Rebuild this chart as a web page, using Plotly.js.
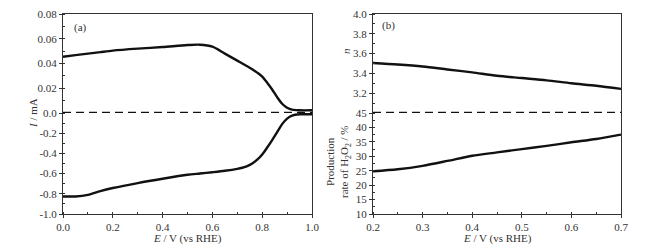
<!DOCTYPE html>
<html>
<head>
<meta charset="utf-8">
<script src="https://cdn.plot.ly/plotly-3.0.1.min.js"></script>
<style>html,body{margin:0;padding:0;background:#fff}#chart{width:660px;height:249px}</style>
</head>
<body>
<div id="chart"></div>
<script>
// Panel (a): ring current (upper) and disk current (lower)
const potentialA = [0, 0.05, 0.1, 0.15, 0.2, 0.3, 0.4, 0.5, 0.55, 0.6, 0.65, 0.7, 0.72, 0.74, 0.76, 0.78, 0.8, 0.82, 0.84, 0.86, 0.88, 0.9, 0.92, 0.95, 1.0];
const ringCurrent = [0.0455, 0.0468, 0.0480, 0.0492, 0.0504, 0.0520, 0.0533, 0.0549, 0.0552, 0.0536, 0.0480, 0.0423, 0.0400, 0.0378, 0.0354, 0.0326, 0.0294, 0.0245, 0.0190, 0.0128, 0.0075, 0.0043, 0.0027, 0.0022, 0.0022];
const diskCurrent = [-0.826, -0.826, -0.810, -0.773, -0.743, -0.694, -0.651, -0.612, -0.599, -0.586, -0.572, -0.553, -0.542, -0.526, -0.500, -0.462, -0.410, -0.342, -0.268, -0.190, -0.110, -0.055, -0.025, -0.013, -0.013];

// Panel (b): electron transfer number n and H2O2 yield
const potentialB = [0.2, 0.25, 0.3, 0.35, 0.4, 0.45, 0.5, 0.55, 0.6, 0.65, 0.7];
const electronNumber = [3.505, 3.49, 3.47, 3.44, 3.41, 3.376, 3.353, 3.33, 3.30, 3.275, 3.244];
const h2o2Yield = [24.8, 25.5, 26.7, 28.4, 30.2, 31.35, 32.5, 33.6, 34.85, 36.0, 37.5];

// Tick labels
const xTicksA = [0, 0.2, 0.4, 0.6, 0.8, 1.0];
const xTickTextA = ['0.0', '0.2', '0.4', '0.6', '0.8', '1.0'];
const yTicksAUp = [0, 0.02, 0.04, 0.06, 0.08];
const yTickTextAUp = ['0.0', '0.02', '0.04', '0.06', '0.08'];
const yTicksALow = [-1.0, -0.8, -0.6, -0.4, -0.2];
const yTickTextALow = ['-1.0', '-0.8', '-0.6', '-0.4', '-0.2'];
const xTicksB = [0.2, 0.3, 0.4, 0.5, 0.6, 0.7];
const xTickTextB = ['0.2', '0.3', '0.4', '0.5', '0.6', '0.7'];
const yTicksBUp = [3.2, 3.4, 3.6, 3.8, 4.0];
const yTickTextBUp = ['3.2', '3.4', '3.6', '3.8', '4.0'];
const yTicksBLow = [10, 15, 20, 25, 30, 35, 40, 45];

(function () {
const W = 660, H = 249;
const px = v => v / W;
const py = v => (H - v) / H;
const yTop = 14, yMid = 113, yBot = 214;
const domA = [px(63), px(312)];
const domB = [px(373), px(621)];
const domUp = [py(yMid), py(yTop)];
const domLow = [py(yBot), py(yMid)];

const tickFont = {family: 'Times New Roman, Liberation Serif, serif', size: 11, color: '#333'};
const axCommon = {
  showline: true, linecolor: '#333', linewidth: 1, zeroline: false, showgrid: false,
  tickfont: tickFont, ticks: 'outside', ticklen: 3, tickcolor: '#333', automargin: false,
  fixedrange: true
};
const minorOf = d => ({dtick: d, ticks: 'inside', ticklen: 2, tickcolor: '#333'});

const lineStyle = {color: '#111', width: 2.4, shape: 'spline', smoothing: 0.8};
const traces = [
  {x: potentialA, y: ringCurrent, xaxis: 'x3', yaxis: 'y2', mode: 'lines', line: lineStyle, hoverinfo: 'skip'},
  {x: potentialA, y: diskCurrent, xaxis: 'x', yaxis: 'y', mode: 'lines', line: lineStyle, hoverinfo: 'skip'},
  {x: potentialB, y: electronNumber, xaxis: 'x4', yaxis: 'y4', mode: 'lines', line: lineStyle, hoverinfo: 'skip'},
  {x: potentialB, y: h2o2Yield, xaxis: 'x2', yaxis: 'y3', mode: 'lines', line: lineStyle, hoverinfo: 'skip'}
];

const layout = {
  width: W, height: H,
  margin: {l: 0, r: 0, t: 0, b: 0},
  paper_bgcolor: '#fff', plot_bgcolor: '#fff',
  showlegend: false,
  xaxis: Object.assign({}, axCommon, {domain: domA, anchor: 'y', range: [0, 1], tickvals: xTicksA, ticktext: xTickTextA, minor: minorOf(0.1)}),
  yaxis: Object.assign({}, axCommon, {domain: domLow, anchor: 'x', range: [-1.0, 0], tickvals: yTicksALow, ticktext: yTickTextALow, mirror: true, minor: minorOf(0.1)}),
  yaxis2: Object.assign({}, axCommon, {domain: domUp, anchor: 'x', range: [0, 0.08], tickvals: yTicksAUp, ticktext: yTickTextAUp, mirror: true, minor: minorOf(0.01)}),
  xaxis3: Object.assign({}, axCommon, {domain: domA, anchor: 'y2', side: 'top', range: [0, 1], showticklabels: false, ticks: ''}),
  xaxis2: Object.assign({}, axCommon, {domain: domB, anchor: 'y3', range: [0.2, 0.7], tickvals: xTicksB, ticktext: xTickTextB, minor: minorOf(0.05)}),
  yaxis3: Object.assign({}, axCommon, {domain: domLow, anchor: 'x2', range: [10, 45], tickvals: yTicksBLow, mirror: true, minor: minorOf(2.5)}),
  yaxis4: Object.assign({}, axCommon, {domain: domUp, anchor: 'x2', range: [3.0, 4.0], tickvals: yTicksBUp, ticktext: yTickTextBUp, mirror: true, minor: minorOf(0.1)}),
  xaxis4: Object.assign({}, axCommon, {domain: domB, anchor: 'y4', side: 'top', range: [0.2, 0.7], showticklabels: false, ticks: ''}),
  shapes: [
    {type: 'line', xref: 'x domain', yref: 'y2', x0: 0, x1: 1, y0: 0, y1: 0, line: {color: '#111', width: 2.5, dash: '8px,5px'}},
    {type: 'line', xref: 'x2 domain', yref: 'y4', x0: 0, x1: 1, y0: 3.0, y1: 3.0, line: {color: '#111', width: 2.5, dash: '8px,5px'}}
  ],
  annotations: [
    {text: '(a)', xref: 'paper', yref: 'paper', x: px(72), y: py(27), xanchor: 'left', yanchor: 'middle', showarrow: false, font: tickFont},
    {text: '(b)', xref: 'paper', yref: 'paper', x: px(380), y: py(26), xanchor: 'left', yanchor: 'middle', showarrow: false, font: tickFont},
    {text: '<i>I</i> / mA', xref: 'paper', yref: 'paper', x: px(33), y: py(113), textangle: -90, xanchor: 'center', yanchor: 'middle', showarrow: false, font: tickFont},
    {text: '<i>n</i>', xref: 'paper', yref: 'paper', x: px(346), y: py(51), textangle: -90, xanchor: 'center', yanchor: 'middle', showarrow: false, font: tickFont},
    {text: 'Production<br>rate of H<sub>2</sub>O<sub>2</sub> / %', xref: 'paper', yref: 'paper', x: px(338), y: py(162), textangle: -90, xanchor: 'center', yanchor: 'middle', showarrow: false, font: tickFont},
    {text: '<i>E</i> / V (vs RHE)', xref: 'paper', yref: 'paper', x: px(187), y: py(238), xanchor: 'center', yanchor: 'middle', showarrow: false, font: tickFont},
    {text: '<i>E</i> / V (vs RHE)', xref: 'paper', yref: 'paper', x: px(497), y: py(238), xanchor: 'center', yanchor: 'middle', showarrow: false, font: tickFont}
  ]
};

Plotly.newPlot('chart', traces, layout, {staticPlot: true, displayModeBar: false});
})();
</script>
</body>
</html>
